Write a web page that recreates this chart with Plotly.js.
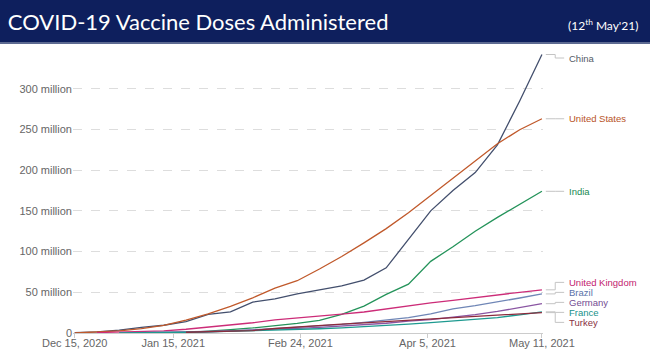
<!DOCTYPE html>
<html>
<head>
<meta charset="utf-8">
<script src="https://cdn.plot.ly/plotly-3.0.1.min.js"></script>
<style>
  html, body { margin: 0; padding: 0; background: #ffffff; }
  #chart { width: 650px; height: 356px; }
</style>
</head>
<body>
<div id="chart"></div>
<script>
// ---- Data (millions of doses) ----
const dates = ['2020-12-15','2020-12-22','2020-12-29','2021-01-05','2021-01-12','2021-01-19','2021-01-26',
  '2021-02-02','2021-02-09','2021-02-16','2021-02-23','2021-03-02','2021-03-09','2021-03-16','2021-03-23',
  '2021-03-30','2021-04-06','2021-04-13','2021-04-20','2021-04-27','2021-05-04','2021-05-11'];

const countries = ['China','United States','India','United Kingdom','Brazil','Germany','France','Turkey'];

const china   = [0.5, 1.5, 3.5, 7.0, 9.5, 14.0, 23.0, 26.0, 38.0, 42.0, 48.0, 53.0, 58.0, 65.0, 80.0, 115.0, 150.0, 175.0, 197.0, 231.0, 285.0, 342.0];
const usa     = [0.0, 1.0, 2.5, 5.3, 9.3, 15.7, 23.5, 32.8, 43.2, 55.2, 64.2, 78.6, 94.0, 110.7, 128.2, 147.6, 168.6, 189.7, 211.6, 232.4, 249.6, 263.1];
const india   = [null, null, null, null, null, 0.45, 2.0, 4.2, 6.2, 8.7, 11.8, 15.5, 22.8, 33.0, 47.5, 60.0, 88.0, 106.0, 125.0, 142.0, 158.0, 174.0];
const uk      = [null, 0.5, 0.9, 1.4, 2.6, 4.6, 7.2, 10.0, 12.6, 16.0, 18.7, 21.2, 23.3, 25.8, 29.5, 34.0, 37.0, 40.0, 43.6, 46.7, 50.0, 53.0];
const brazil  = [null, null, null, null, null, 0.1, 1.1, 2.3, 3.9, 5.3, 6.9, 8.6, 10.6, 13.0, 16.0, 19.0, 23.5, 29.5, 33.5, 38.0, 43.0, 48.0];
const germany = [null, null, 0.04, 0.36, 0.8, 1.3, 1.9, 2.6, 3.4, 4.4, 5.8, 7.0, 8.6, 10.6, 12.0, 14.5, 16.5, 19.5, 22.5, 26.5, 31.0, 36.0];
const france  = [null, null, 0.0, 0.02, 0.3, 0.9, 1.5, 2.1, 2.7, 3.5, 4.3, 5.2, 6.2, 7.5, 9.0, 10.8, 12.7, 14.6, 16.6, 19.0, 22.3, 26.0];
const turkey  = [null, null, null, null, null, 0.9, 1.3, 2.1, 3.0, 5.5, 7.5, 9.5, 11.0, 12.5, 14.0, 15.5, 17.5, 19.0, 20.5, 21.8, 23.5, 25.0];

const yTickVals = [0, 50, 100, 150, 200, 250, 300];
const yTickText = ['0', '50 million', '100 million', '150 million', '200 million', '250 million', '300 million'];
const xTickVals = ['2020-12-15', '2021-01-15', '2021-02-24', '2021-04-05', '2021-05-11'];
const xTickText = ['Dec 15, 2020', 'Jan 15, 2021', 'Feb 24, 2021', 'Apr 5, 2021', 'May 11, 2021'];

// ---- Styles ----
const seriesData = [china, usa, india, uk, brazil, germany, france, turkey];
const lineColors  = ['#434f6d', '#c0592b', '#24935a', '#cc2c78', '#6f86b6', '#8a55a2', '#1e9a90', '#8c2b3d'];
const labelColors = ['#555a66', '#b8531f', '#208a52', '#c21b6e', '#5a72a8', '#744c92', '#17918a', '#8a3242'];

const M = 1e6;
const traces = seriesData.map((vals, i) => ({
  type: 'scatter', mode: 'lines', name: countries[i],
  x: dates, y: vals.map(v => v === null ? null : v * M),
  line: { color: lineColors[i], width: 1.3 },
  hoverinfo: 'x+y+name', showlegend: false
}));

// label placement: spread overlapping labels around their cluster mean
const yMax = 350;
const plotH = 285;
const gap = 10 / plotH * yMax; // 10px in data units
function lastVal(a) { for (let i = a.length - 1; i >= 0; i--) if (a[i] !== null) return a[i]; return 0; }
const ends = seriesData.map(lastVal);
let order = ends.map((v, i) => i).sort((a, b) => ends[b] - ends[a]);
let clusters = order.map(i => ({ items: [i] }));
function center(c) { return c.items.reduce((s, i) => s + ends[i], 0) / c.items.length; }
function topOf(c) { return center(c) + (c.items.length - 1) * gap / 2; }
function botOf(c) { return center(c) - (c.items.length - 1) * gap / 2; }
let merged = true;
while (merged) {
  merged = false;
  for (let k = 0; k < clusters.length - 1; k++) {
    if (botOf(clusters[k]) - topOf(clusters[k + 1]) < gap) {
      clusters[k].items = clusters[k].items.concat(clusters[k + 1].items);
      clusters.splice(k + 1, 1);
      merged = true;
      break;
    }
  }
}
const labelPos = new Array(ends.length);
clusters.forEach(c => {
  const t = Math.min(topOf(c), yMax - 10 / plotH * yMax);
  c.items.forEach((i, j) => { labelPos[i] = t - j * gap; });
});

const annotations = countries.map((name, i) => ({
  xref: 'paper', yref: 'y', x: 1.053, y: labelPos[i] * M,
  xanchor: 'left', yanchor: 'middle', showarrow: false, borderpad: 0,
  text: name, font: { family: 'Liberation Sans, Arial, sans-serif', size: 9.5, color: labelColors[i] }
}));
annotations.push({
  xref: 'paper', yref: 'paper', x: 1.207, y: 1.081, xanchor: 'right', yanchor: 'middle',
  showarrow: false, text: "(12<sup>th</sup> May'21)",
  font: { family: 'Lato, sans-serif', size: 12, color: '#ffffff' }
});

const shapes = [
  { type: 'rect', xref: 'paper', yref: 'paper', x0: -0.16, x1: 1.23, y0: 1.0211, y1: 1.17,
    fillcolor: '#0e1f5d', line: { width: 0 }, layer: 'above' },
  { type: 'rect', xref: 'paper', yref: 'paper', x0: -0.16, x1: 1.23, y0: 1.0141, y1: 1.0211,
    fillcolor: '#5d6a91', line: { width: 0 }, layer: 'above' }
];
countries.forEach((name, i) => {
  const ye = ends[i] * M, yl = labelPos[i] * M;
  shapes.push({
    type: 'path', xref: 'paper', yref: 'y',
    path: `M 1.006,${ye} L 1.026,${ye} L 1.026,${yl} L 1.045,${yl}`,
    line: { color: '#c4c4c4', width: 1 }, layer: 'above'
  });
});

const layout = {
  width: 650, height: 356,
  margin: { l: 73, r: 107, t: 48, b: 23, pad: 0 },
  paper_bgcolor: '#ffffff', plot_bgcolor: '#ffffff',
  title: {
    text: 'COVID-19 Vaccine Doses Administered',
    x: 0.012, xanchor: 'left', xref: 'container',
    y: 0.938, yanchor: 'middle', yref: 'container',
    font: { family: 'Lato, sans-serif', size: 22, color: '#ffffff' }
  },
  xaxis: {
    type: 'date', range: ['2020-12-14 11:00', '2021-05-11 08:00'],
    tickvals: xTickVals, ticktext: xTickText,
    showgrid: false, zeroline: false,
    showline: true, linecolor: '#cccccc', linewidth: 1,
    ticks: 'outside', ticklen: 4, tickcolor: '#cccccc',
    ticklabelstandoff: -4,
    tickfont: { family: 'Liberation Sans, Arial, sans-serif', size: 11, color: '#666666' }
  },
  yaxis: {
    range: [0, yMax * M],
    tickvals: yTickVals.map(v => v * M), ticktext: yTickText,
    showgrid: true, gridcolor: '#dddddd', griddash: 'dash', gridwidth: 1,
    zeroline: false, showline: false, ticks: '',
    tickfont: { family: 'Liberation Sans, Arial, sans-serif', size: 11, color: '#666666' }
  },
  annotations: annotations,
  shapes: shapes,
  hovermode: 'closest'
};

Plotly.newPlot('chart', traces, layout, { displayModeBar: false, staticPlot: true });
</script>
</body>
</html>
